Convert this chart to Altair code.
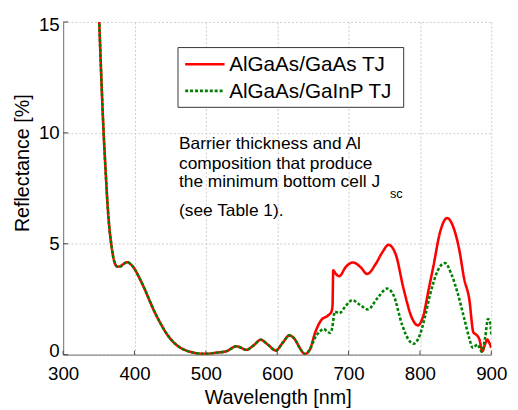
import altair as alt
import pandas as pd

# ---- data ----
series_names = ["AlGaAs/GaAs TJ", "AlGaAs/GaInP TJ"]
series_colors = ["#ff0000", "#008000"]
series_dashes = [[1, 0], [3, 2]]

wl_common = [347, 350.6, 353.5, 356.6, 359, 363.4, 368, 372.7, 376, 380, 385, 390, 394,
             400, 407, 414, 421, 428, 437, 446, 455, 465, 478, 490, 500, 515, 529, 543,
             557, 567, 577, 587, 598, 608, 617, 625, 632, 639, 646]
refl_common = [18.0, 15.0, 12.5, 10.1, 8.6, 6.24, 4.85, 4.1, 3.97, 3.98, 4.1, 4.17, 4.1,
               3.87, 3.45, 2.98, 2.45, 1.94, 1.38, 0.9, 0.55, 0.3, 0.13, 0.05, 0.04, 0.09,
               0.16, 0.38, 0.22, 0.42, 0.67, 0.45, 0.19, 0.55, 0.87, 0.68, 0.28, 0.03, 0.25]

wl_gaas = [653, 662, 671, 676, 677.5, 678.5, 682, 687, 696, 706, 717, 726, 738, 747, 756,
           766, 777, 789, 797, 805, 812, 819, 828, 838, 848, 855, 862, 869, 875, 879, 883,
           887.6, 891, 894.5, 897, 900]
refl_gaas = [0.98, 1.57, 1.76, 1.94, 2.2, 3.8, 3.65, 3.54, 3.95, 4.16, 3.94, 3.64, 4.09,
             4.6, 4.95, 4.53, 2.98, 1.64, 1.32, 1.79, 2.9, 4.01, 5.5, 6.16, 5.64, 4.75,
             3.42, 2.53, 1.0, 0.9, 0.72, 0.16, 0.45, 0.68, 0.55, 0.31]

wl_gainp = [653, 660, 665, 670, 674, 677, 680.7, 687, 696, 705, 716, 727, 740, 754, 763,
            775, 784, 791, 800, 807, 814, 825, 835, 844, 853, 862, 869, 874, 880.7, 886.6,
            891.3, 895.4, 898.6, 900]
refl_gainp = [0.76, 1.05, 1.16, 1.05, 0.98, 1.2, 1.94, 1.87, 2.2, 2.46, 2.25, 2.04, 2.53,
              2.98, 2.68, 1.35, 0.68, 0.49, 0.9, 1.7, 2.68, 3.79, 4.13, 3.64, 2.76, 1.64,
              0.76, 0.31, 0.46, 0.13, 0.76, 1.61, 1.42, 0.9]

x_ticks = [300, 400, 500, 600, 700, 800, 900]
y_ticks = [0, 5, 10, 15]

annotation_lines = ["Barrier thickness and Al", "composition that produce",
                    "the minimum bottom cell J", "(see Table 1)."]
annotation_sub = "sc"

FONT = "Liberation Sans"

rows = []
for w, r in zip(wl_common + wl_gaas, refl_common + refl_gaas):
    rows.append({"wl": w, "refl": r, "series": series_names[0]})
for w, r in zip(wl_common + wl_gainp, refl_common + refl_gainp):
    rows.append({"wl": w, "refl": r, "series": series_names[1]})
df = pd.DataFrame(rows)

W, H = 435, 338

x_scale = alt.Scale(domain=[300, 900], nice=False, zero=False)
y_scale = alt.Scale(domain=[0, 15], nice=False, zero=False)

layers = []
for i, name in enumerate(series_names):
    layers.append(
        alt.Chart(df[df["series"] == name]).mark_line(
            clip=True, strokeWidth=2.6, interpolate="monotone",
            color=series_colors[i], strokeDash=series_dashes[i]).encode(
            x=alt.X("wl:Q", scale=x_scale,
                    axis=alt.Axis(values=x_ticks, title="Wavelength [nm]", titleX=218,
                                  titleY=44, titleBaseline="middle", titleAlign="center",
                                  labelFlush=False, labelPadding=10)),
            y=alt.Y("refl:Q", scale=y_scale,
                    axis=alt.Axis(values=y_ticks, title="Reflectance [%]", titleX=-41,
                                  titleY=143, titleAngle=270, titleBaseline="middle",
                                  titleAlign="center", labelFlush=True,
                                  labelFlushOffset=6, labelPadding=4)),
        )
    )

xt = alt.Chart(pd.DataFrame({"v": x_ticks})).mark_rule(color="#444", strokeWidth=1).encode(
    x=alt.X("v:Q", scale=x_scale), y=alt.value(H), y2=alt.value(H - 4))
yt = alt.Chart(pd.DataFrame({"v": y_ticks})).mark_rule(color="#444", strokeWidth=1).encode(
    y=alt.Y("v:Q", scale=y_scale), x=alt.value(0), x2=alt.value(5))

# legend (manual box, symbols and labels)
one = pd.DataFrame({"a": [0]})
legend_parts = [
    alt.Chart(one).mark_rect(fill="white", stroke="#333333", strokeWidth=1).encode(
        x=alt.value(116.7), x2=alt.value(346), y=alt.value(26), y2=alt.value(86.7))
]
leg_rows_y = [43, 70]
for i, name in enumerate(series_names):
    legend_parts.append(
        alt.Chart(one).mark_rule(color=series_colors[i], strokeWidth=2.6,
                                 strokeDash=series_dashes[i]).encode(
            x=alt.value(124), x2=alt.value(164), y=alt.value(leg_rows_y[i])))
    legend_parts.append(
        alt.Chart(pd.DataFrame({"t": [name]})).mark_text(
            align="left", baseline="middle", fontSize=21, font=FONT, color="black").encode(
            text="t:N", x=alt.value(168.7), y=alt.value(leg_rows_y[i] + 1)))

line_y = [124, 144.5, 163, 192]
texts = []
for t, yy in zip(annotation_lines, line_y):
    texts.append(alt.Chart(pd.DataFrame({"t": [t]})).mark_text(
        align="left", baseline="middle", fontSize=17.6, font=FONT, color="black").encode(
        text="t:N", x=alt.value(117.7), y=alt.value(yy)))
texts.append(alt.Chart(pd.DataFrame({"t": [annotation_sub]})).mark_text(
    align="left", baseline="middle", fontSize=13, font=FONT, color="black").encode(
    text="t:N", x=alt.value(332), y=alt.value(175)))

chart = alt.layer(*layers, xt, yt, *legend_parts, *texts).properties(
    width=W, height=H,
    autosize=alt.AutoSizeParams(type="none"),
    padding={"left": 56, "top": 11, "right": 19, "bottom": 53},
).configure_view(stroke=None).configure_axis(
    grid=True, gridColor="#cccccc", gridDash=[2, 2], gridWidth=1,
    domainColor="#888888", domainWidth=1.2, ticks=False,
    labelFont=FONT, labelFontSize=19, labelColor="black",
    titleFont=FONT, titleFontSize=20, titleFontWeight="normal", titleColor="black",
)

chart.save("out.html", embed_options={"renderer": "svg", "actions": False})
